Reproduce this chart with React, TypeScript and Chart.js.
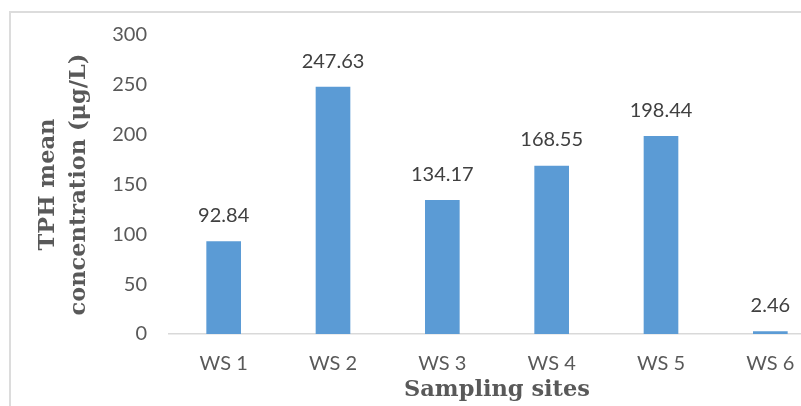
import React, { useEffect, useRef } from "react";
import { Chart, registerables } from "chart.js";

Chart.register(...registerables);

const categories = ["WS 1", "WS 2", "WS 3", "WS 4", "WS 5", "WS 6"];
const tphMean = [92.84, 247.63, 134.17, 168.55, 198.44, 2.46];
const yTitleLines = ["TPH mean", "concentration (μg/L)"];
const xTitle = "Sampling sites";

const frameBorder = {
  id: "frameBorder",
  beforeDraw(chart: any) {
    const ctx = chart.ctx;
    ctx.save();
    ctx.strokeStyle = "#dcdcdc";
    ctx.lineWidth = 2;
    ctx.beginPath();
    ctx.moveTo(10, chart.height);
    ctx.lineTo(10, 12);
    ctx.lineTo(chart.width, 12);
    ctx.stroke();
    ctx.restore();
  },
};

const barLabels = {
  id: "barLabels",
  afterDatasetsDraw(chart: any) {
    const ctx = chart.ctx;
    const meta = chart.getDatasetMeta(0);
    const data = chart.data.datasets[0].data as number[];
    ctx.save();
    ctx.font = "20px Lato";
    ctx.fillStyle = "#404040";
    ctx.textAlign = "center";
    ctx.textBaseline = "middle";
    meta.data.forEach((bar: any, i: number) => {
      ctx.fillText(data[i].toFixed(2), bar.x, bar.y - 26);
    });
    ctx.restore();
  },
};

export default function App() {
  const ref = useRef<HTMLCanvasElement | null>(null);

  useEffect(() => {
    if (!ref.current) return;
    const chart = new Chart(ref.current, {
      type: "bar",
      data: {
        labels: categories,
        datasets: [
          {
            data: tphMean,
            backgroundColor: "#5B9BD5",
            borderWidth: 0,
            barThickness: 34,
          },
        ],
      },
      options: {
        animation: false,
        responsive: false,
        events: [],
        layout: { padding: { top: 35, right: 15, left: 0, bottom: 0 } },
        plugins: {
          legend: { display: false },
          tooltip: { enabled: false },
          title: { display: false },
        },
        scales: {
          x: {
            grid: { display: false, drawTicks: false },
            border: { display: true, color: "#d9d9d9", width: 1.5 },
            ticks: {
              color: "#595959",
              font: { family: "Lato", size: 20 },
              padding: 18,
              maxRotation: 0,
            },
            title: {
              display: true,
              text: xTitle,
              color: "#595959",
              font: { family: "DejaVu Serif", size: 22.5, weight: "bold", lineHeight: 1.2 },
              padding: { top: 0, bottom: 2 },
            },
            afterFit(scale: any) {
              scale.height = 72;
            },
          },
          y: {
            min: 0,
            max: 300,
            grid: { display: false, drawTicks: false },
            border: { display: false },
            ticks: {
              stepSize: 50,
              color: "#595959",
              font: { family: "Lato", size: 20 },
              padding: 22,
            },
            title: {
              display: true,
              text: yTitleLines,
              color: "#595959",
              font: { family: "DejaVu Serif", size: 22.5, weight: "bold", lineHeight: 1.38 },
              padding: { top: 32.5, bottom: 0 },
            },
            afterFit(scale: any) {
              scale.width = 169;
            },
          },
        },
      },
      plugins: [frameBorder, barLabels],
    });
    return () => chart.destroy();
  }, []);

  return (
    <div
      style={{
        position: "absolute",
        left: 0,
        top: 0,
        width: 801,
        height: 406,
        overflow: "hidden",
        background: "#ffffff",
      }}
    >
      <canvas ref={ref} width={840} height={406} style={{ width: 840, height: 406, display: "block" }} />
    </div>
  );
}
